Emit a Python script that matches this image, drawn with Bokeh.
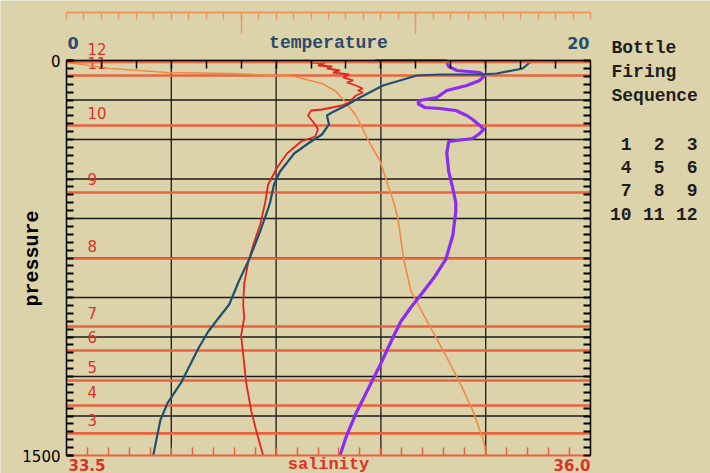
import numpy as np
from bokeh.plotting import figure
from bokeh.models import Range1d, LinearAxis, FixedTicker, Label, ColumnDataSource
from bokeh.core.properties import value
from bokeh.embed import file_html
from bokeh.resources import INLINE

# ---------------- data ----------------
# temperature profile (degC) vs pressure (dbar)
temp_p = [0, 7.6, 30.4, 49.4, 53.2, 53.2, 57.0, 94.9, 140.5, 170.9, 197.4, 208.8, 243.0,
          281.0, 315.2, 353.1, 421.5, 470.8, 539.2, 573.3, 649.3, 755.6, 835.3, 926.5,
          979.6, 1029.0, 1093.5, 1222.6, 1302.4, 1366.9, 1500]
temp_v = [17.79, 17.68, 17.41, 16.42, 15.77, 14.25, 13.37, 12.08, 11.20, 10.67, 10.13, 9.94,
          10.02, 9.75, 9.22, 8.69, 8.15, 7.92, 7.77, 7.66, 7.39, 6.97, 6.59, 6.21, 5.79,
          5.41, 5.03, 4.38, 3.85, 3.58, 3.31]

# salinity profile (psu)
sal_p = [0, 3.8, 7.6, 11.4, 19.0, 22.8, 30.4, 38.0, 45.6, 53.2, 64.5, 75.9, 83.5, 94.9,
         106.3, 113.9, 121.5, 132.9, 159.5, 170.9, 186.1, 189.9, 208.8, 243.0, 262.0,
         288.6, 307.6, 353.1, 406.3, 470.8, 539.2, 622.7, 702.5, 767.0, 846.7, 926.5,
         975.8, 1044.2, 1116.3, 1222.6, 1329.0, 1404.9, 1500]
sal_v = [34.638, 34.690, 34.662, 34.733, 34.700, 34.767, 34.743, 34.805, 34.771, 34.848,
         34.819, 34.867, 34.838, 34.881, 34.914, 34.890, 34.914, 34.881, 34.848, 34.814,
         34.719, 34.667, 34.652, 34.686, 34.700, 34.686, 34.619, 34.552, 34.505, 34.462,
         34.448, 34.424, 34.390, 34.367, 34.348, 34.343, 34.348, 34.333, 34.343, 34.357,
         34.381, 34.405, 34.438]

# density (sigma) profile, top orange scale
dens_p = [0, 7.6, 30.4, 45.6, 49.4, 60.8, 87.3, 117.7, 159.5, 208.8, 262.0, 315.2, 379.7,
          459.4, 539.2, 599.9, 755.6, 873.3, 953.0, 1044.2, 1142.9, 1222.6, 1329.0,
          1446.6, 1500]
dens_v = [25.000, 25.006, 25.251, 25.577, 25.954, 26.303, 26.463, 26.543, 26.600, 26.657,
          26.697, 26.737, 26.794, 26.834, 26.874, 26.897, 26.931, 26.971, 27.034, 27.109,
          27.189, 27.251, 27.326, 27.389, 27.406]

# oxygen profile (purple trace, unlabeled scale)
oxy_p = [0, 0, 22.8, 38.0, 45.6, 57.0, 75.9, 94.9, 113.9, 140.5, 151.9, 163.3, 178.5,
         182.3, 189.9, 208.8, 224.0, 246.8, 262.0, 277.2, 296.2, 307.6, 353.1, 421.5,
         486.0, 539.2, 573.3, 664.5, 755.6, 820.2, 884.7, 937.9, 991.0, 1044.2, 1158.1,
         1234.0, 1340.4, 1431.5, 1500]
oxy_v = [5.886, 7.238, 7.295, 7.448, 7.886, 7.981, 7.886, 7.638, 7.257, 7.067, 6.743,
         6.705, 6.838, 7.124, 7.429, 7.638, 7.752, 7.886, 7.962, 7.886, 7.752, 7.295,
         7.257, 7.295, 7.372, 7.429, 7.429, 7.372, 7.238, 7.029, 6.781, 6.571, 6.381,
         6.248, 5.981, 5.790, 5.524, 5.333, 5.219]

# bottle firing depths (dbar)
bottle_num = ["3", "4", "5", "6", "7", "8", "9", "10", "11", "12"]
bottle_p = [1416, 1310, 1215, 1101, 1010, 752, 501, 247, 57, 4]

# bottle firing sequence table
sequence = [["1", "2", "3"], ["4", "5", "6"], ["7", "8", "9"], ["10", "11", "12"]]

# scales
T_LIM = (0.0, 20.0)
S_LIM = (33.5, 36.0)
D_LIM = (25.0, 28.0)
O_LIM = (0.0, 10.0)
P_LIM = (0.0, 1500.0)

# axis ticks
temp_grid = [4, 8, 12, 16]
pres_grid = [150, 300, 450, 600, 750, 900, 1050, 1200, 1350]
pres_minor = list(range(0, 1501, 30))
temp_minor = list(np.linspace(0, 20, 16)[1:-1])
sal_minor = [round(33.5 + 0.1 * k, 2) for k in range(1, 25)]
dens_minor = [round(25.0 + 0.1 * k, 2) for k in range(0, 31)]
dens_major = [26.0, 27.0]

# ---------------- layout (pixels) ----------------
W, H = 710, 473
FL, FR, FT, FB = 66, 590, 60, 455      # data box of the profile plot
DENS_AXIS_Y = 12                        # orange scale line above the box


def span(lim, a, b, total):
    lo, hi = lim
    k = (hi - lo) / (b - a)
    return lo - a * k, hi + (total - b) * k


def yspan(lim):
    lo, hi = lim
    k = (hi - lo) / (FB - FT)
    return hi + (H - FB) * k, lo - FT * k


def p_at(ypix):
    return P_LIM[0] + (ypix - FT) * (P_LIM[1] - P_LIM[0]) / (FB - FT)


def t_at(xpix):
    return T_LIM[0] + (xpix - FL) * (T_LIM[1] - T_LIM[0]) / (FR - FL)


# ---------------- styling ----------------
BG = "#dcd3aa"
NAVY = "#2c4a6b"
TEMP_C = "#21506f"
RED_TXT = "#dc3227"
SAL_C = "#e8231a"
BOTTLE_C = "#e8643f"
ORANGE = "#f0975c"
DENS_C = "#f28a46"
PURPLE = "#8a2cf2"
MONO = "Liberation Mono"
SANS = "DejaVu Sans"

xs = span(T_LIM, FL, FR, W)
ys = yspan(P_LIM)
p = figure(width=W, height=H,
           x_range=Range1d(*xs), y_range=Range1d(*ys),
           output_backend="svg", toolbar_location=None,
           x_axis_location=None, y_axis_location=None,
           min_border=0, min_border_left=0, min_border_right=0,
           min_border_top=0, min_border_bottom=0,
           background_fill_color=BG, border_fill_color=BG, outline_line_color=None)
p.grid.visible = False
p.extra_x_ranges = {"sal": Range1d(*span(S_LIM, FL, FR, W)),
                    "dens": Range1d(*span(D_LIM, FL, FR, W)),
                    "oxy": Range1d(*span(O_LIM, FL, FR, W))}

# grid lines
p.segment(x0=temp_grid, x1=temp_grid, y0=P_LIM[0], y1=P_LIM[1], line_color="#1b1b1b", line_width=1.3)
p.segment(x0=T_LIM[0], x1=T_LIM[1], y0=pres_grid, y1=pres_grid, line_color="#1b1b1b", line_width=1.3)

# bottle lines
p.segment(x0=T_LIM[0], x1=T_LIM[1], y0=bottle_p, y1=bottle_p, line_color=BOTTLE_C, line_width=2.6)
bsrc = ColumnDataSource(dict(p=bottle_p, t=bottle_num))
p.text(x=t_at(87), y="p", text="t", source=bsrc, y_offset=-13,
       text_font=value(SANS), text_font_size="15px", text_color=RED_TXT,
       text_align="left", text_baseline="middle")

# profiles
p.line(dens_v, dens_p, x_range_name="dens", line_color=DENS_C, line_width=1.6)
p.line(oxy_v, oxy_p, x_range_name="oxy", line_color=PURPLE, line_width=3.2)
p.line(sal_v, sal_p, x_range_name="sal", line_color=SAL_C, line_width=1.8)
p.line(temp_v, temp_p, line_color=TEMP_C, line_width=2.2)

# axes (pinned to the box edges)
left = LinearAxis(fixed_location=T_LIM[0], bounds=P_LIM,
                  ticker=FixedTicker(ticks=[0, 1500], minor_ticks=pres_minor),
                  axis_line_color="black", axis_line_width=1.5,
                  major_tick_in=7, major_tick_out=0, minor_tick_in=7, minor_tick_out=0,
                  major_tick_line_width=2, minor_tick_line_width=2,
                  major_tick_line_color="black", minor_tick_line_color="black",
                  major_label_standoff=6, major_label_text_font=SANS,
                  major_label_text_font_size="15px", major_label_text_color="black")
p.add_layout(left, "left")

right = LinearAxis(fixed_location=T_LIM[1], bounds=P_LIM,
                   ticker=FixedTicker(ticks=[], minor_ticks=pres_minor),
                   axis_line_color="black", axis_line_width=1.5,
                   minor_tick_in=7, minor_tick_out=0, minor_tick_line_width=2,
                   minor_tick_line_color="black")
p.add_layout(right, "right")

bottom = LinearAxis(x_range_name="sal", fixed_location=P_LIM[1], bounds=S_LIM,
                    ticker=FixedTicker(ticks=[], minor_ticks=sal_minor),
                    axis_line_color=BOTTLE_C, axis_line_width=2.2,
                    minor_tick_in=8, minor_tick_out=0, minor_tick_line_width=1.5,
                    minor_tick_line_color=BOTTLE_C)
p.add_layout(bottom, "below")

top_t = LinearAxis(fixed_location=P_LIM[0], bounds=T_LIM,
                   ticker=FixedTicker(ticks=[], minor_ticks=temp_minor),
                   axis_line_color="black", axis_line_width=1.5,
                   minor_tick_in=8, minor_tick_out=0, minor_tick_line_width=1.5,
                   minor_tick_line_color="black")
p.add_layout(top_t, "above")

top_d = LinearAxis(x_range_name="dens", fixed_location=p_at(DENS_AXIS_Y), bounds=D_LIM,
                   ticker=FixedTicker(ticks=dens_major, minor_ticks=dens_minor),
                   axis_line_color=ORANGE, axis_line_width=2,
                   major_tick_in=21, major_tick_out=0, minor_tick_in=7, minor_tick_out=0,
                   major_tick_line_color=ORANGE, minor_tick_line_color=ORANGE,
                   major_tick_line_width=1.5, minor_tick_line_width=1.5,
                   major_label_overrides={26.0: "", 27.0: ""})
p.add_layout(top_d, "above")

# bottle line 12 drawn again over the box top
p.segment(x0=T_LIM[0], x1=T_LIM[1], y0=bottle_p[-1:], y1=bottle_p[-1:],
          line_color=BOTTLE_C, line_width=3.5)


def lab(text, xpix, ypix, **kw):
    opts = dict(text_font=MONO, text_font_style="bold", text_font_size="17px",
                text_color="black", text_baseline="middle", text_align="left")
    opts.update(kw)
    p.add_layout(Label(x=t_at(xpix), y=p_at(ypix), text=text, **opts))


# temperature scale labels
lab("0", FL + 1, 42, text_font=SANS, text_font_size="16px", text_color=NAVY)
lab("temperature", (FL + FR) / 2, 42, text_align="center", text_color=NAVY,
    text_font_size="18px")
lab("20", FR - 1, 42, text_align="right", text_font=SANS, text_font_size="16px",
    text_color=NAVY)

# salinity scale labels
lab("33.5", FL + 2, 464, text_font=SANS, text_font_size="15px", text_color=RED_TXT)
lab("salinity", (FL + FR) / 2, 464, text_align="center", text_font_size="17px",
    text_color=RED_TXT)
lab("36.0", FR, 464, text_align="right", text_font=SANS, text_font_size="15px",
    text_color=RED_TXT)

# pressure label
lab("pressure", 32, 258, angle=90, angle_units="deg", text_align="center",
    text_font_size="20px")

# bottle firing sequence panel
for i, word in enumerate(["Bottle", "Firing", "Sequence"]):
    lab(word, 611, 47 + i * 24, text_font_size="18px", text_color="#1e1e1e")
row_y = [143, 166, 189, 213]
col_x = [631, 664, 697]
for r, row in enumerate(sequence):
    for c, num in enumerate(row):
        lab(num, col_x[c], row_y[r], text_align="right", text_font_size="18px",
            text_color="#1e1e1e")

open("out.html", "w").write(file_html(p, INLINE))
